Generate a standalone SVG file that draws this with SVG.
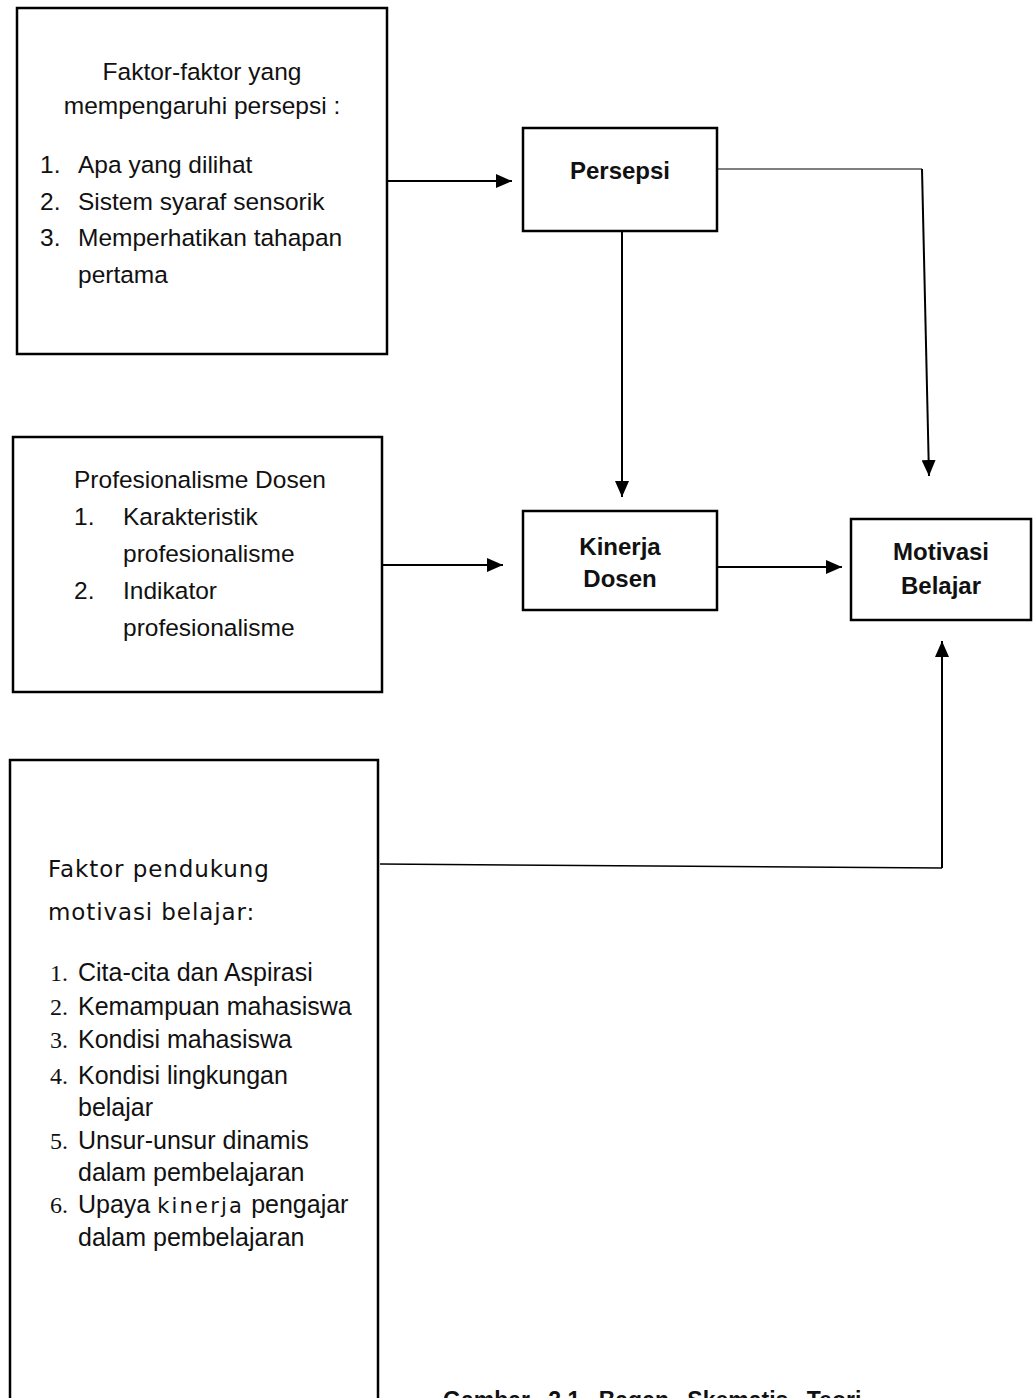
<svg xmlns="http://www.w3.org/2000/svg" width="1036" height="1398" viewBox="0 0 1036 1398">
<style>
.box{fill:#fff;stroke:#000;stroke-width:2.5}
.t{font-family:"Liberation Sans",Arial,sans-serif;font-size:24.5px;fill:#111}
.u{font-family:"Liberation Sans",Arial,sans-serif;font-size:25px;fill:#111}
.b{font-family:"Liberation Sans",Arial,sans-serif;font-size:24px;font-weight:bold;fill:#111;text-anchor:middle}
.n{font-family:"Liberation Serif","Times New Roman",serif;font-size:24px;fill:#111}
.d{font-family:"DejaVu Sans",sans-serif;font-size:23px;letter-spacing:0.9px;fill:#111}
.c{fill:none;stroke:#000;stroke-width:2}
</style>
<defs>
<marker id="ah" markerUnits="userSpaceOnUse" markerWidth="16" markerHeight="14" refX="16" refY="7" orient="auto">
<path d="M0,0 L16,7 L0,14 z" fill="#000"/>
</marker>
</defs>
<rect width="1036" height="1398" fill="#fff"/>

<g id="connectors">
<path class="c" d="M387,181 H512" marker-end="url(#ah)"/>
<path class="c" d="M382,565 H503" marker-end="url(#ah)"/>
<path class="c" d="M622,231 V497" marker-end="url(#ah)"/>
<path class="c" style="stroke-width:1.2" d="M718,169 H922"/>
<path class="c" d="M922,169 L929,476" marker-end="url(#ah)"/>
<path class="c" d="M718,567 H842" marker-end="url(#ah)"/>
<path class="c" style="stroke-width:1.5" d="M380,864 L942,868"/>
<path class="c" d="M942,868 V641" marker-end="url(#ah)"/>
</g>

<g id="faktor-persepsi">
<rect class="box" x="17" y="8" width="370" height="346"/>
<text class="t" x="202" y="80" text-anchor="middle">Faktor-faktor yang</text>
<text class="t" x="202" y="114" text-anchor="middle">mempengaruhi persepsi :</text>
<text class="t" x="40" y="173">1.</text><text class="t" x="78" y="173">Apa yang dilihat</text>
<text class="t" x="40" y="210">2.</text><text class="t" x="78" y="210">Sistem syaraf sensorik</text>
<text class="t" x="40" y="246">3.</text><text class="t" x="78" y="246">Memperhatikan tahapan</text>
<text class="t" x="78" y="283">pertama</text>
</g>

<g id="profesionalisme">
<rect class="box" x="13" y="437" width="369" height="255"/>
<text class="t" x="74" y="488">Profesionalisme Dosen</text>
<text class="t" x="74" y="525">1.</text><text class="t" x="123" y="525">Karakteristik</text>
<text class="t" x="123" y="562">profesionalisme</text>
<text class="t" x="74" y="599">2.</text><text class="t" x="123" y="599">Indikator</text>
<text class="t" x="123" y="636">profesionalisme</text>
</g>

<g id="faktor-pendukung">
<rect class="box" x="10" y="760" width="368" height="700"/>
<text class="d" x="48" y="877">Faktor pendukung</text>
<text class="d" x="48" y="920">motivasi belajar:</text>
<text class="n" x="50" y="981">1.</text><text class="u" x="78" y="981">Cita-cita dan Aspirasi</text>
<text class="n" x="50" y="1015">2.</text><text class="u" x="78" y="1015">Kemampuan mahasiswa</text>
<text class="n" x="50" y="1048">3.</text><text class="u" x="78" y="1048">Kondisi mahasiswa</text>
<text class="n" x="50" y="1084">4.</text><text class="u" x="78" y="1084">Kondisi lingkungan</text>
<text class="u" x="78" y="1116">belajar</text>
<text class="n" x="50" y="1149">5.</text><text class="u" x="78" y="1149">Unsur-unsur dinamis</text>
<text class="u" x="78" y="1181">dalam pembelajaran</text>
<text class="n" x="50" y="1213">6.</text><text class="u" x="78" y="1213">Upaya <tspan style="font-family:'DejaVu Sans',sans-serif;font-size:21px;letter-spacing:2.2px">kinerja</tspan> pengajar</text>
<text class="u" x="78" y="1246">dalam pembelajaran</text>
</g>

<g id="persepsi">
<rect class="box" x="523" y="128" width="194" height="103"/>
<text class="b" x="620" y="179">Persepsi</text>
</g>

<g id="kinerja-dosen">
<rect class="box" x="523" y="511" width="194" height="99"/>
<text class="b" x="620" y="555">Kinerja</text>
<text class="b" x="620" y="587">Dosen</text>
</g>

<g id="motivasi-belajar">
<rect class="box" x="851" y="519" width="180" height="101"/>
<text class="b" x="941" y="560">Motivasi</text>
<text class="b" x="941" y="594">Belajar</text>
</g>

<g id="caption">
<text class="b" style="text-anchor:start;font-size:23px;word-spacing:12px" x="443" y="1408">Gambar 2.1 Bagan Skematis Teori</text>
</g>
</svg>
